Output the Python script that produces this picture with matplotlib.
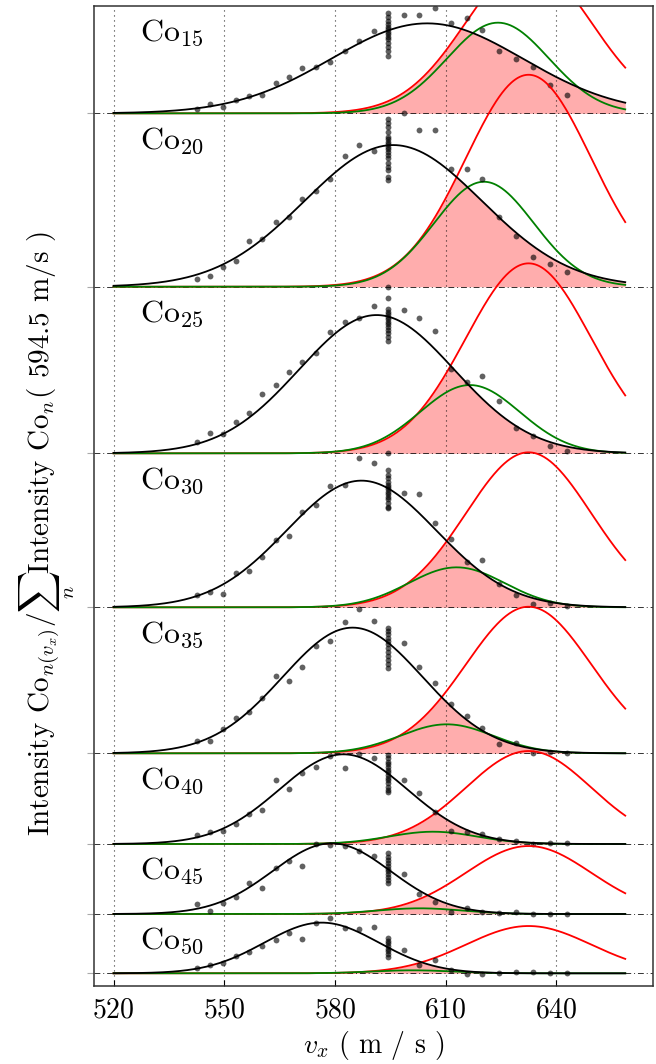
import numpy as np
import matplotlib
matplotlib.use("Agg")
import matplotlib.pyplot as plt

plt.rcParams['font.family'] = 'cmr10'
plt.rcParams['mathtext.fontset'] = 'cm'
plt.rcParams['axes.formatter.use_mathtext'] = True

# cluster sizes, one panel each (top to bottom)
labels = [r'Co$_{15}$', r'Co$_{20}$', r'Co$_{25}$', r'Co$_{30}$',
          r'Co$_{35}$', r'Co$_{40}$', r'Co$_{45}$', r'Co$_{50}$']
baselines = [872.7, 699.3, 532.7, 378.7, 232.7, 142.0, 72.0, 12.7]

# measured velocities (m/s) and the reference velocity
v_scan = [542.7, 546.1, 549.7, 553.1, 556.7, 560.3, 563.9, 567.5, 571.2,
          575.0, 578.8, 582.6, 586.6, 590.6, 598.7, 602.9, 607.0, 611.4,
          615.7, 619.9, 624.4, 629.0, 633.6, 638.3, 642.8]
v_ref = 594.5

scan_pts = [
    [4.3, 9.0, 6.0, 13.3, 17.0, 18.7, 30.3, 36.3, 45.0, 46.3, 51.3, 62.7, 72.0,
     82.3, 98.7, 98.3, 105.0, 90.0, 95.0, 83.3, 62.7, 54.0, 46.0, 28.7, 18.7],
    [7.3, 11.0, 20.0, 25.7, 45.7, 47.3, 64.7, 70.0, 87.3, 95.7, 107.7, 130.7, 141.7,
     136.0, 173.3, 156.7, 156.7, 117.7, 117.3, 107.3, 69.3, 51.0, 30.0, 22.7, 14.3],
    [11.7, 20.0, 19.3, 31.0, 40.0, 59.3, 68.3, 81.7, 91.0, 100.0, 121.0, 131.0, 135.7,
     147.7, 143.3, 135.7, 122.3, 84.3, 71.7, 77.7, 52.7, 25.0, 17.7, 7.7, 2.3],
    [12.3, 15.0, 13.3, 34.7, 36.7, 50.0, 67.3, 71.3, 95.0, 102.3, 121.3, 122.3, 149.0,
     144.7, 114.7, 113.0, 84.0, 68.0, 45.7, 47.3, 23.3, 12.3, 3.3, 4.7, 1.3],
    [12.3, 12.7, 24.0, 35.0, 41.7, 55.0, 77.7, 72.3, 86.7, 107.7, 112.7, 131.0, 144.3,
     132.7, 110.0, 86.0, 70.0, 49.0, 37.3, 25.7, 9.0, 10.0, 0.0, 1.7, 0.0],
    [9.0, 12.3, 13.0, 19.7, 30.0, 34.0, 64.0, 55.0, 70.7, 77.3, 88.0, 76.3, 89.7,
     86.3, 64.0, 51.3, 32.3, 13.0, 11.7, 9.7, 4.7, 3.0, 0.0, 1.3, 0.7],
    [10.0, 3.0, 11.3, 16.7, 31.3, 25.7, 45.7, 53.3, 48.3, 70.0, 69.0, 68.0, 63.3,
     58.3, 39.7, 20.0, 11.7, 2.3, 6.3, 2.3, 1.3, 2.3, 0.0, 0.0, 0.0],
    [5.7, 8.3, 10.7, 17.3, 21.0, 27.3, 33.3, 40.0, 34.0, 50.7, 55.0, 45.0, 44.0,
     46.0, 23.3, 8.3, 13.3, 3.3, -1.0, -1.0, 0.7, 1.0, 1.0, 0.7, 0.0],
]

# repeated shots at the reference velocity
ref_pts = [
    [100.7, 96.7, 92.7, 89.3, 86.7, 84.0, 81.7, 79.3, 76.7, 74.0, 70.7, 66.7, 62.7, 57.3],
    [167.3, 163.3, 159.3, 155.0, 150.0, 147.3, 145.0, 142.7, 140.0, 137.3, 135.0,
     131.7, 128.3, 124.0, 120.0, 116.7, 110.0, 106.7],
    [166.7, 155.0, 144.3, 141.7, 139.0, 136.7, 134.3, 131.7, 129.0, 126.7, 123.3,
     120.0, 116.7, 112.3],
    [154.0, 137.3, 132.3, 129.0, 125.7, 122.3, 120.0, 118.0, 115.7, 113.3, 110.7,
     108.0, 104.7, 100.7, 99.0],
    [125.7, 122.3, 119.0, 115.7, 112.3, 109.0, 105.7, 101.7, 97.7, 93.3, 89.0, 85.7],
    [89.0, 85.7, 82.3, 79.7, 77.0, 74.3, 71.7, 69.0, 66.3, 63.7, 60.7, 57.3, 54.0, 51.7],
    [60.7, 57.3, 54.0, 50.7, 48.0, 45.3, 42.7, 40.0, 37.3, 34.0, 30.7],
    [35.0, 32.7, 30.0, 27.3, 24.7, 22.0, 19.3, 16.7],
]

# gaussian fit of each distribution
fit_amp = [90.0, 141.7, 138.3, 126.7, 125.7, 89.7, 70.7, 50.7]
fit_center = [605.0, 595.8, 591.3, 587.2, 584.8, 582.3, 579.1, 576.4]
fit_width = [26.0, 24.0, 21.0, 20.3, 19.0, 17.4, 16.0, 15.5]

# red: fixed velocity window, scaled per panel
red_amp = [150.0, 212.0, 190.0, 155.0, 146.6, 93.0, 68.0, 47.3]
red_center = 632.5
red_width = 17.0

# green: overlap product
green_amp = [90.7, 105.0, 68.3, 40.0, 29.0, 12.3, 5.7, 3.0]
green_center = [624.2, 620.4, 616.6, 613.0, 610.3, 606.6, 603.0, 601.0]
green_width = [13.8, 13.5, 13.5, 13.0, 12.6, 12.0, 11.5, 11.0]


def gauss(x, a, c, s):
    return a * np.exp(-(x - c) ** 2 / (2 * s ** 2))


xs = np.linspace(520, 658.7, 500)
ytop = 980.0

fig = plt.figure(figsize=(6.56, 10.64), dpi=100)
ax = fig.add_axes([0.1433, 0.0733, 0.852, 0.921])

for i in range(len(labels)):
    b = baselines[i]
    black = gauss(xs, fit_amp[i], fit_center[i], fit_width[i])
    red = gauss(xs, red_amp[i], red_center, red_width)
    green = gauss(xs, green_amp[i], green_center[i], green_width[i])

    ax.fill_between(xs, b, b + np.minimum(black, red), color='red', alpha=0.32, lw=0)
    ax.plot(xs, b + red, color='red', lw=1.3)
    ax.plot(xs, b + green, color='green', lw=1.3)
    ax.plot(xs, b + black, color='k', lw=1.3)
    ax.plot(v_scan, b + np.array(scan_pts[i]), 'o', color='k', alpha=0.62, ms=4.2, mew=0)
    ax.plot([v_ref] * len(ref_pts[i]), b + np.array(ref_pts[i]), 'o', color='k',
            alpha=0.62, ms=4.2, mew=0)

    top = ytop if i == 0 else baselines[i - 1]
    ax.text(527.2, top - 35, labels[i], fontsize=23, va='baseline', ha='left')

ax.set_xlim(514.7, 666.2)
ax.set_ylim(0, ytop)
ax.set_xticks([520, 550, 580, 610, 640])
ax.set_yticks(baselines)
ax.set_yticklabels([])
ax.grid(axis='x', color='k', lw=0.8, linestyle=(0, (1, 3.5)), alpha=0.8)
ax.grid(axis='y', color='k', lw=0.7, linestyle=(0, (6, 3, 1, 3)), alpha=0.8)
ax.tick_params(axis='x', labelsize=20, direction='in', length=4, pad=8)
ax.tick_params(axis='y', direction='out', length=5, color='#aaaaaa')
for sp in ax.spines.values():
    sp.set_linewidth(1.1)
    sp.set_color('#333333')

ax.set_xlabel(r'$v_x$ ( m / s )', fontsize=20, labelpad=4)
ax.set_ylabel(r'Intensity Co$_{n(v_x)}$/$\sum_n$Intensity Co$_n$( 594.5 m/s )',
              fontsize=21)
ax.yaxis.set_label_coords(-0.03, 0.462)

fig.savefig('out.png', dpi=100)
